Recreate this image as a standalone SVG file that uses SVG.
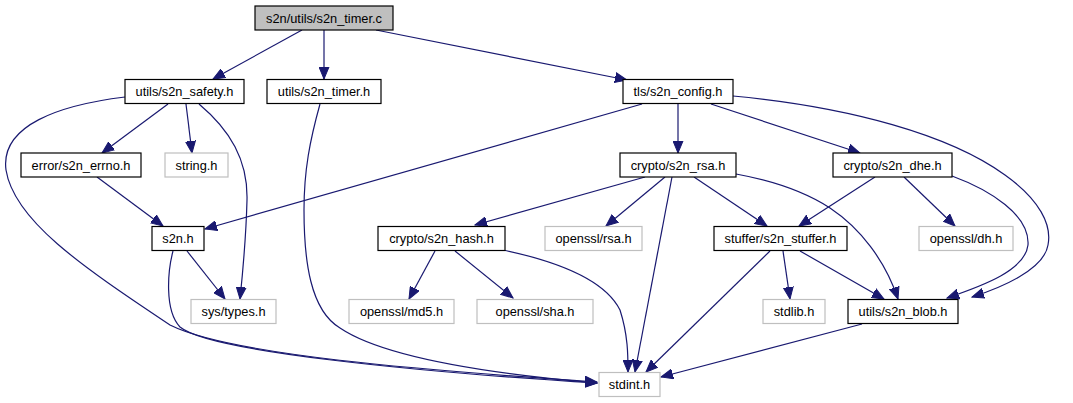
<svg xmlns="http://www.w3.org/2000/svg" width="1073" height="403" viewBox="0 0 1073 403">
<style>
.n rect{fill:#fff;stroke:#000;stroke-width:1.2}
.g rect{fill:#fff;stroke:#bfbfbf;stroke-width:1.2}
.r rect{fill:#bfbfbf;stroke:#000;stroke-width:1.2}
text{font-family:"Liberation Sans",Arial,sans-serif;font-size:12.8px;text-anchor:middle;fill:#000}
.e path{fill:none;stroke:#191970;stroke-width:1.2;marker-end:url(#a)}
</style>
<defs>
<marker id="a" markerUnits="userSpaceOnUse" markerWidth="13" markerHeight="11" refX="12" refY="5" orient="auto" viewBox="0 0 13 10">
<path d="M0,0 L12,5 L0,10 z" fill="#191970" stroke="#191970" stroke-width="1"/>
</marker>
</defs>
<rect width="1073" height="403" fill="#fff"/>
<g class="e" id="edges">
<path d="M302,30 L213,79"/>
<path d="M324,30 L324,79"/>
<path d="M376,30 L627,80"/>
<path d="M168,104 L102,153"/>
<path d="M186,104 L192,153"/>
<path d="M199,104 C230,130 248,160 247,200 C246,240 243,270 240,299"/>
<path d="M125,97 C60,105 0,125 6,170 C14,220 80,265 170,325 C230,355 420,370 597,382"/>
<path d="M320,104 C310,140 304,170 304,210 C304,260 310,310 340,328 C380,355 470,372 597,383"/>
<path d="M187,251 L225,299"/>
<path d="M173,251 C168,270 164,310 180,327 C210,352 420,372 597,383"/>
<path d="M97,177 L163,226"/>
<path d="M642,104 L205,229"/>
<path d="M678,104 L678,153"/>
<path d="M711,104 L860,153"/>
<path d="M733,96 C850,107 950,135 1005,175 C1040,200 1052,225 1048,245 C1044,270 1000,288 972,297"/>
<path d="M875,177 L799,226"/>
<path d="M904,177 L955,226"/>
<path d="M952,176 C990,190 1030,215 1028,245 C1025,270 985,285 947,298"/>
<path d="M645,177 L475,225"/>
<path d="M665,177 L606,226"/>
<path d="M672,177 L635,372"/>
<path d="M694,177 L767,226"/>
<path d="M736,174 C780,182 810,195 830,208 C860,228 885,260 898,299"/>
<path d="M435,251 L409,299"/>
<path d="M455,251 L513,298"/>
<path d="M503,250 C560,262 605,280 620,310 C628,335 628,355 628,372"/>
<path d="M770,251 L646,372"/>
<path d="M783,251 L790,299"/>
<path d="M800,251 L884,299"/>
<path d="M862,324 L661,377"/>
</g>
<g id="n_timer_c" class="r"><rect x="255" y="6" width="138" height="24"/><text x="324" y="22.5">s2n/utils/s2n_timer.c</text></g>
<g id="n_safety" class="n"><rect x="125" y="79.5" width="119" height="24"/><text x="184.5" y="96">utils/s2n_safety.h</text></g>
<g id="n_timer_h" class="n"><rect x="267" y="79.5" width="114" height="24"/><text x="324" y="96">utils/s2n_timer.h</text></g>
<g id="n_config" class="n"><rect x="623" y="79.5" width="110" height="24"/><text x="678" y="96">tls/s2n_config.h</text></g>
<g id="n_errno" class="n"><rect x="21" y="153" width="120" height="24"/><text x="81" y="169.5">error/s2n_errno.h</text></g>
<g id="n_string" class="g"><rect x="165" y="153" width="63" height="24"/><text x="196.5" y="169.5">string.h</text></g>
<g id="n_rsa" class="n"><rect x="620" y="153" width="116" height="24"/><text x="678" y="169.5">crypto/s2n_rsa.h</text></g>
<g id="n_dhe" class="n"><rect x="833" y="153" width="119" height="24"/><text x="892.5" y="169.5">crypto/s2n_dhe.h</text></g>
<g id="n_s2n" class="n"><rect x="152" y="226.5" width="52" height="24"/><text x="178" y="243">s2n.h</text></g>
<g id="n_hash" class="n"><rect x="378" y="226.5" width="127" height="24"/><text x="441.5" y="243">crypto/s2n_hash.h</text></g>
<g id="n_osslrsa" class="g"><rect x="545" y="226.5" width="97" height="24"/><text x="593.5" y="243">openssl/rsa.h</text></g>
<g id="n_stuffer" class="n"><rect x="714" y="226.5" width="133" height="24"/><text x="780.5" y="243">stuffer/s2n_stuffer.h</text></g>
<g id="n_dh" class="g"><rect x="919" y="226.5" width="94" height="24"/><text x="966" y="243">openssl/dh.h</text></g>
<g id="n_systypes" class="g"><rect x="191" y="299.5" width="85" height="24"/><text x="233.5" y="316">sys/types.h</text></g>
<g id="n_md5" class="g"><rect x="349" y="299.5" width="105" height="24"/><text x="401.5" y="316">openssl/md5.h</text></g>
<g id="n_sha" class="g"><rect x="477" y="299.5" width="116" height="24"/><text x="535" y="316">openssl/sha.h</text></g>
<g id="n_stdlib" class="g"><rect x="763" y="299.5" width="62" height="24"/><text x="794" y="316">stdlib.h</text></g>
<g id="n_blob" class="n"><rect x="848" y="299.5" width="110" height="24"/><text x="903" y="316">utils/s2n_blob.h</text></g>
<g id="n_stdint" class="g"><rect x="599" y="372.5" width="61" height="24"/><text x="629.5" y="389">stdint.h</text></g>
</svg>
